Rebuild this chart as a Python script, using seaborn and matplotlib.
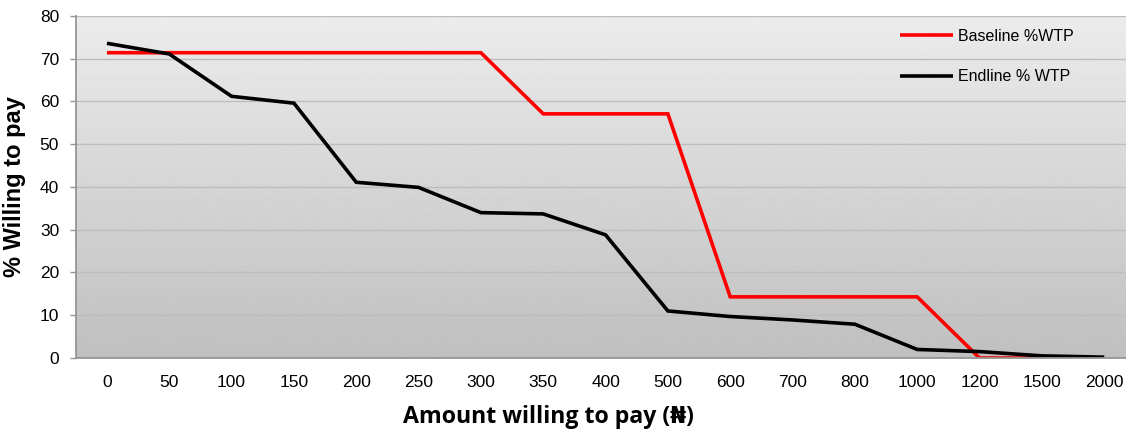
import numpy as np
import pandas as pd
import matplotlib
matplotlib.use("Agg")
import matplotlib.pyplot as plt
import seaborn as sns

# Price points offered (Naira) and share of respondents willing to pay
amounts = ["0", "50", "100", "150", "200", "250", "300", "350", "400",
           "500", "600", "700", "800", "1000", "1200", "1500", "2000"]
baseline_wtp = [71.4, 71.4, 71.4, 71.4, 71.4, 71.4, 71.4, 57.1, 57.1,
                57.1, 14.3, 14.3, 14.3, 14.3, 0.0, 0.0, 0.0]
endline_wtp = [73.6, 71.1, 61.2, 59.6, 41.1, 39.9, 34.0, 33.7, 28.8,
               11.0, 9.7, 8.9, 7.9, 2.0, 1.5, 0.5, 0.2]
series_names = ["Baseline %WTP", "Endline % WTP"]
series_colors = ["#ff0000", "#000000"]

df = pd.concat([
    pd.DataFrame({"amount": amounts, "wtp": baseline_wtp, "series": series_names[0]}),
    pd.DataFrame({"amount": amounts, "wtp": endline_wtp, "series": series_names[1]}),
], ignore_index=True)

sns.set_theme(style="white")
plt.rcParams["font.family"] = ["Liberation Sans", "DejaVu Sans"]
plt.rcParams["text.color"] = "black"
plt.rcParams["axes.labelcolor"] = "black"
plt.rcParams["xtick.labelcolor"] = "black"
plt.rcParams["ytick.labelcolor"] = "black"

fig = plt.figure(figsize=(11.26, 4.33), dpi=100)
ax = fig.add_axes([0.0673, 0.1732, 0.941, 0.790])

# vertical grey gradient behind the plot area
grad = np.linspace(0.925, 0.75, 256).reshape(-1, 1)
ax.imshow(grad, cmap="gray", vmin=0, vmax=1, aspect="auto",
          extent=[0, 1, 0, 1], transform=ax.transAxes, zorder=-2,
          interpolation="bilinear")
ax.set_facecolor("none")

sns.lineplot(data=df, x="amount", y="wtp", hue="series", palette=series_colors,
             linewidth=2.6, ax=ax, sort=False, legend=True)
for line in ax.lines:
    line.set_solid_joinstyle("miter")
    line.set_solid_capstyle("butt")

n = len(amounts)
ax.set_xlim(-0.5, n - 0.5)
ax.set_ylim(0, 80)
ax.set_yticks(np.arange(0, 81, 10))
ax.yaxis.grid(True, color="#bdbdbd", linewidth=1.0)
ax.xaxis.grid(False)
ax.set_axisbelow(True)

ax.set_xticks(range(n))
ax.set_xticklabels(amounts)
ax.set_xticks(np.arange(-0.5, n - 0.5, 1.0), minor=True)
ax.tick_params(axis="x", which="major", length=0, pad=12, labelsize=12.5, labelcolor="black")
ax.tick_params(axis="x", which="minor", length=4, width=1, color="#959595", direction="out")
ax.tick_params(axis="y", which="major", left=True, length=4, width=1, color="#959595",
               direction="out", pad=8, labelsize=12.5, labelcolor="black")

for side in ("top", "right"):
    ax.spines[side].set_visible(False)
for side in ("left", "bottom"):
    ax.spines[side].set_color("#959595")
    ax.spines[side].set_linewidth(1.3)

ax.set_xlabel("Amount willing to pay (₦)", fontsize=16.7, fontweight="bold",
              family=["Open Sans", "DejaVu Sans"], color="black")
ax.xaxis.set_label_coords(0.4465, -0.138)
ax.set_ylabel("% Willing to pay", fontsize=17, fontweight="bold", labelpad=10, color="black")

handles, labels = ax.get_legend_handles_labels()
leg = ax.legend(handles, labels, loc="upper left", bbox_to_anchor=(0.778, 0.963),
                frameon=False, fontsize=11.5, handlelength=3.3, handletextpad=0.35,
                labelspacing=1.6, borderpad=0, borderaxespad=0, labelcolor="black")
for h in leg.get_lines():
    h.set_linewidth(2.6)

fig.savefig("out.png", dpi=100)
